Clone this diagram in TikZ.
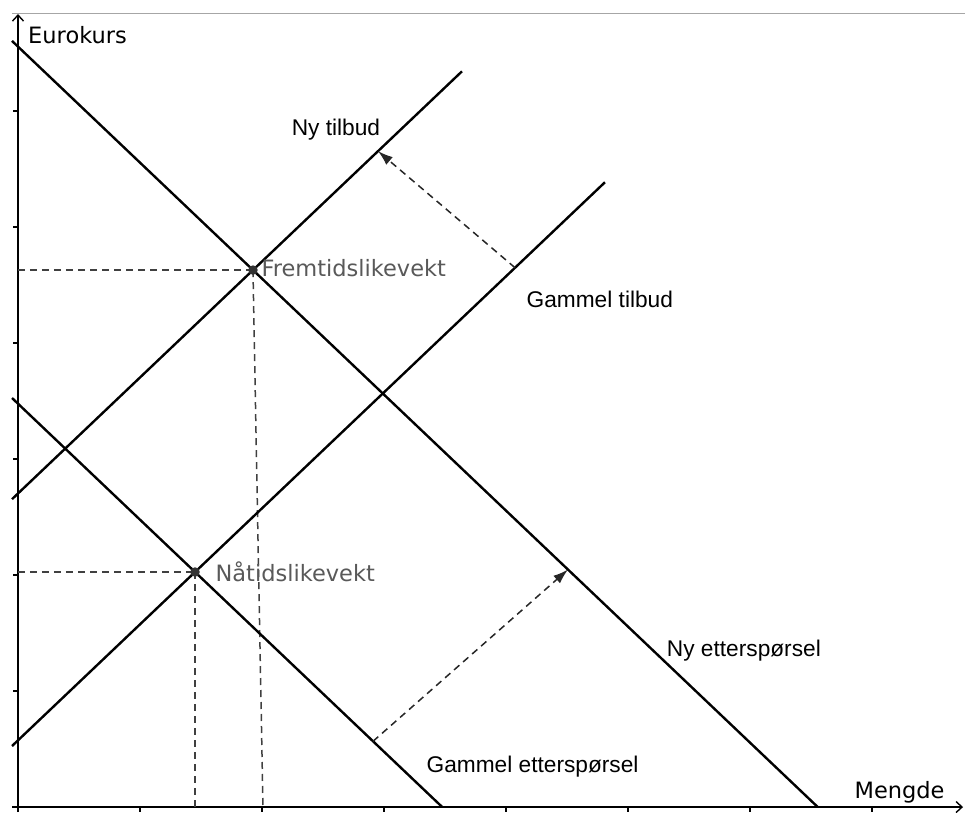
\documentclass[tikz,border=0pt]{standalone}
\usepackage{fontspec}
\setmainfont{Liberation Sans}
\newfontfamily\ggbfont{DejaVu Sans}
\usetikzlibrary{arrows.meta, positioning}

\begin{document}
\begin{tikzpicture}[
    x=122pt, y=116pt,
    akse/.style={line width=1.4pt, -{Straight Barb[length=6pt, width=11pt]}},
    kurve/.style={line width=2.4pt},
    hjelp/.style={dashed, dash pattern=on 7pt off 5pt, line width=1.5pt, black!75},
    skift/.style={hjelp, black!85, -{Latex[length=15pt, width=10pt]}},
    punkt/.style={circle, fill=black!80, inner sep=0pt, minimum size=9.5pt},
    etikett/.style={anchor=base west, font=\fontsize{22.7}{27}\selectfont},
    ggbtekst/.style={font=\ggbfont\fontsize{22.5}{26}\selectfont}
]
    \useasboundingbox (-0.1475,-0.0431) rectangle (7.762,6.957);

    % vinduskant
    \draw[black!35, line width=1.5pt] (-0.049,6.840) -- (7.762,6.840);

    % akser
    \draw[akse] (0,-0.043) -- (0,6.836);
    \draw[akse] (-0.049,0) -- (7.746,0);
    \foreach \i in {1,...,7}
        \draw[line width=1.2pt] (\i,0) -- ++(0,-5pt);
    \foreach \j in {1,...,6}
        \draw[line width=1.2pt] (0,\j) -- ++(-5pt,0);
    \node[ggbtekst, anchor=base west] (eurokurs) at (0.055,6.586) {Eurokurs};
    \node[ggbtekst, anchor=base east] (mengde) at (7.623,0.078) {Mengde};

    % likevektspunkter
    \coordinate (naa) at (1.451,2.026);
    \coordinate (frem) at (1.926,4.629);

    % hjelpelinjer
    \draw[hjelp] (0,2.026) -- (naa);
    \draw[hjelp] (naa) -- (1.451,0);
    \draw[hjelp] (0,4.629) -- (frem);
    \draw[hjelp] (frem) -- (2.008,0);

    % kurver
    \coordinate (ge1) at (-0.049,3.526);  \coordinate (ge2) at (3.477,0);
    \coordinate (ne1) at (-0.049,6.604);  \coordinate (ne2) at (6.555,0);
    \coordinate (gt1) at (-0.049,0.526);  \coordinate (gt2) at (4.811,5.386);
    \coordinate (nt1) at (-0.049,2.654);  \coordinate (nt2) at (3.639,6.342);
    \draw[kurve] (ge1) -- (ge2);
    \draw[kurve] (ne1) -- (ne2);
    \draw[kurve] (gt1) -- (gt2);
    \draw[kurve] (nt1) -- (nt2);

    % skift
    \coordinate (tilbudfra) at (4.074,4.649);
    \coordinate (tilbudtil) at (2.951,5.654);
    \coordinate (ettfra) at (2.910,0.567);
    \coordinate (etttil) at (4.508,2.047);
    \draw[skift] (tilbudfra) -- (tilbudtil);
    \draw[skift] (ettfra) -- (etttil);

    \node[punkt] (naapunkt) at (naa) {};
    \node[punkt] (frempunkt) at (frem) {};
    \node[ggbtekst, black!65, anchor=base west] (naatekst) at ([xshift=17pt, yshift=-9pt]naa) {Nåtidslikevekt};
    \node[ggbtekst, black!65, anchor=base west] (femtekst) at ([xshift=5pt, yshift=-6pt]frem) {Fremtidslikevekt};

    % navn
    \node[etikett] (nytilbud) at (2.215,5.793) {Ny tilbud};
    \node[etikett] (gmltilbud) at (4.140,4.302) {Gammel tilbud};
    \node[etikett] (nyett) at (5.290,1.302) {Ny etterspørsel};
    \node[etikett] (gmlett) at (3.320,0.302) {Gammel etterspørsel};
\end{tikzpicture}
\end{document}
